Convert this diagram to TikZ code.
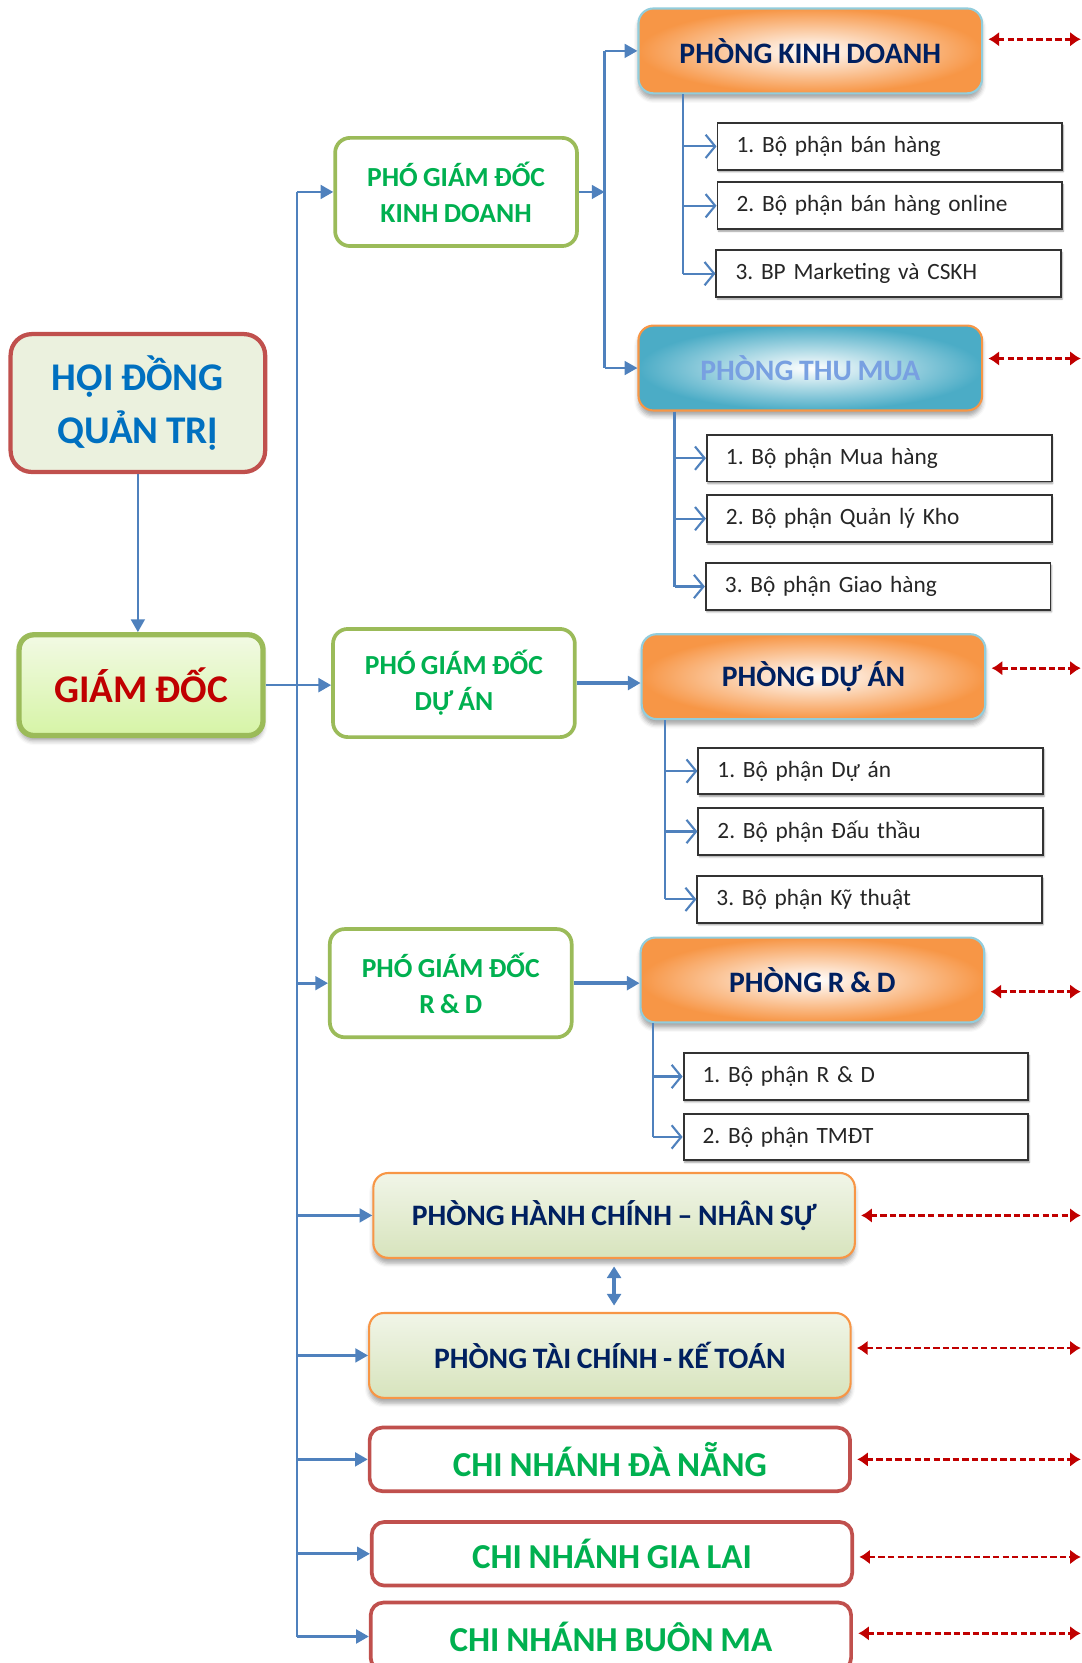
\documentclass[tikz,border=0pt]{standalone}
\usepackage{fontspec}
\setmainfont{Carlito}[WordSpace=0.85]
\usepackage{tikz}
\usetikzlibrary{arrows.meta}
\usetikzlibrary{positioning}
\usetikzlibrary{calc}
\usetikzlibrary{shadows.blur}
\definecolor{bline}{RGB}{79,129,189}
\definecolor{rline}{RGB}{192,0,0}
\definecolor{orangeC}{RGB}{247,150,70}
\definecolor{tealC}{RGB}{75,172,198}
\definecolor{paleteal}{RGB}{146,205,220}
\definecolor{navy}{RGB}{0,32,96}
\definecolor{greenT}{RGB}{0,176,80}
\definecolor{olive}{RGB}{155,187,89}
\definecolor{redB}{RGB}{192,80,77}
\definecolor{boardfill}{RGB}{235,241,222}
\definecolor{blueT}{RGB}{0,112,192}
\definecolor{skyT}{RGB}{120,160,225}
\definecolor{chieftop}{RGB}{242,250,228}
\definecolor{chiefbot}{RGB}{214,244,166}
\tikzset{box/.style={rounded corners=14pt, align=center, inner sep=0pt}}
\tikzset{soft shadow/.style={blur shadow={shadow xshift=0pt, shadow yshift=-5pt, shadow blur radius=4pt, shadow opacity=35}}}
\tikzset{dept/.style={box, soft shadow, draw=paleteal, line width=2pt,
                      inner color=white, outer color=orangeC, text=navy,
                      font=\fontsize{28}{32}\selectfont\bfseries,
                      minimum width=324pt, minimum height=80pt}}
\tikzset{vice/.style={box, draw=olive, line width=3.5pt, fill=white, text=greenT,
                      font=\fontsize{26}{34}\selectfont\bfseries,
                      minimum width=228pt, minimum height=102pt}}
\tikzset{part/.style={draw=black!80, line width=1.8pt, fill=white,
                      blur shadow={shadow xshift=1pt, shadow yshift=-2pt, shadow blur radius=1.5pt, shadow opacity=40},
                      minimum height=44pt, text width=289pt, inner xsep=18pt, align=left,
                      font=\fontsize{22}{24}\selectfont\frenchspacing, text=black!85}}

\begin{document}
\begin{tikzpicture}
    [
      x=1pt, y=-1pt,
      office/.style = {box, soft shadow, draw=orangeC, line width=2pt,
                       top color=boardfill!70!white, bottom color=olive!40!white, text=navy,
                       font=\fontsize{28}{32}\selectfont\bfseries,
                       minimum width=454pt, minimum height=80pt},
      branch/.style = {box, rounded corners=12pt, draw=redB, line width=3.5pt, fill=white, text=greenT,
                       font=\fontsize{33}{36}\selectfont\bfseries,
                       minimum width=453pt, minimum height=60pt},
      link/.style = {draw=bline, line width=2pt, -{Triangle[length=12pt,width=13pt]}},
      feed/.style = {draw=bline, line width=2pt, -{Straight Barb[length=9pt,width=22pt]}},
      peer/.style = {draw=rline, line width=2.5pt, dash pattern=on 6pt off 3pt,
                     {Latex[length=10pt,width=14pt]}-{Latex[length=10pt,width=14pt]}},
    ]
    \useasboundingbox (0,0) rectangle (1020,1568);

    % top of the chart
    \node [box, rounded corners=20pt, draw=redB, line width=4pt, fill=boardfill, text=blueT,
           font=\fontsize{37}{50}\selectfont\bfseries, minimum width=240pt, minimum height=130pt]
          (hdqt) at (130,380) {HỘI ĐỒNG\\QUẢN TRỊ};
    \node [box, soft shadow, draw=olive, line width=5pt, top color=chieftop, bottom color=chiefbot,
           text=rline, font=\fontsize{37}{40}\selectfont\bfseries, minimum width=230pt, minimum height=95pt]
          (gd) at (133,646) {GIÁM ĐỐC};

    % deputies
    \node [vice] (pgdkd) at (430,181) {PHÓ GIÁM ĐỐC\\KINH DOANH};
    \node [vice] (pgdda) at (428,644) {PHÓ GIÁM ĐỐC\\DỰ ÁN};
    \node [vice] (pgdrd) at (425,927) {PHÓ GIÁM ĐỐC\\R \& D};

    % departments
    \node [dept] (pkd) at (764,48) {PHÒNG KINH DOANH};
    \node [dept, draw=orangeC, outer color=tealC, text=skyT] (ptm) at (764,347) {PHÒNG THU MUA};
    \node [dept] (pda) at (767,638) {PHÒNG DỰ ÁN};
    \node [dept] (prd) at (766,924) {PHÒNG R \& D};
    \node [office] (hcns) at (579,1146) {PHÒNG HÀNH CHÍNH – NHÂN SỰ};
    \node [office] (tckt) at (575,1278) {PHÒNG TÀI CHÍNH - KẾ TOÁN};
    \node [branch] (cndn) at (575,1376) {CHI NHÁNH ĐÀ NẴNG};
    \node [branch] (cngl) at (577,1465) {CHI NHÁNH GIA LAI};
    \node [branch, minimum height=64pt] (cnbm) at (576,1543) {CHI NHÁNH BUÔN MA};

    % sections
    \foreach \n/\x/\y/\t in {kd1/839/138/{1. Bộ phận bán hàng}, kd2/839/194/{2. Bộ phận bán hàng online},
                             kd3/838/258/{3. BP Marketing và CSKH},
                             tm1/829/432/{1. Bộ phận Mua hàng}, tm2/829/489/{2. Bộ phận Quản lý Kho},
                             tm3/828/553/{3. Bộ phận Giao hàng},
                             da1/821/727/{1. Bộ phận Dự án}, da2/821/784/{2. Bộ phận Đấu thầu},
                             da3/820/848/{3. Bộ phận Kỹ thuật},
                             rd1/807/1015/{1. Bộ phận R \& D}, rd2/807/1072/{2. Bộ phận TMĐT}}
      \node [part] (\n) at (\x,\y) {\t};

    % trunk
    \coordinate (trunk) at (280,0);
    \coordinate (pbus) at (570,0);
    \draw [link] (hdqt.south) -- (hdqt.south |- gd.north);
    \draw [draw=bline, line width=2pt] (trunk |- pgdkd.west) -- (trunk |- cnbm.west);
    \draw [link, line width=2.5pt] (gd.east) -- (gd.east -| pgdda.west);
    \foreach \n in {pgdkd, pgdrd, hcns, tckt, cndn, cngl, cnbm}
      \draw [link, line width=2.5pt] (trunk |- \n.west) -- (\n.west);

    % deputies to departments
    \draw [link] (pgdkd.east) -- (pbus |- pgdkd.east);
    \draw [draw=bline, line width=2pt] (pbus |- pkd.west) -- (pbus |- ptm.west);
    \draw [link] (pbus |- pkd.west) -- (pkd.west);
    \draw [link] (pbus |- ptm.west) -- (ptm.west);
    \draw [link, line width=3.5pt] (pgdda.east) -- (pgdda.east -| pda.west);
    \draw [link, line width=3.5pt] (pgdrd.east) -- (pgdrd.east -| prd.west);

    % departments to sections
    \foreach \p/\dx/\a/\b/\c in {pkd/43/kd1/kd2/kd3, ptm/35/tm1/tm2/tm3, pda/23/da1/da2/da3}
    {
      \coordinate (bus\p) at ([xshift=\dx pt]\p.south west);
      \draw [draw=bline, line width=2pt] (bus\p) -- (bus\p |- \c.west);
      \foreach \s in {\a,\b,\c}
        \draw [feed] (bus\p |- \s.west) -- (\s.west);
    }
    \coordinate (busprd) at ([xshift=13pt]prd.south west);
    \draw [draw=bline, line width=2pt] (busprd) -- (busprd |- rd2.west);
    \draw [feed] (busprd |- rd1.west) -- (rd1.west);
    \draw [feed] (busprd |- rd2.west) -- (rd2.west);

    % between the two offices
    \coordinate (hcnsfoot) at ([yshift=-7pt]hcns.south);
    \coordinate (tcktcap) at ([yshift=6pt]tckt.north);
    \draw [draw=bline, line width=3pt, {Triangle[length=11pt,width=13pt]}-{Triangle[length=11pt,width=13pt]}]
          (hcnsfoot) -- (hcnsfoot |- tcktcap);

    % links to the right edge
    \coordinate (rim) at (1019,0);
    \foreach \n/\dy in {pkd/11, ptm/9, pda/8, prd/-11, hcns/0, tckt/7, cndn/0, cngl/-3, cnbm/3}
      \draw [peer] ([xshift=5pt,yshift=\dy pt]\n.east) coordinate (tail) -- (tail -| rim);

  \end{tikzpicture}
\end{document}
